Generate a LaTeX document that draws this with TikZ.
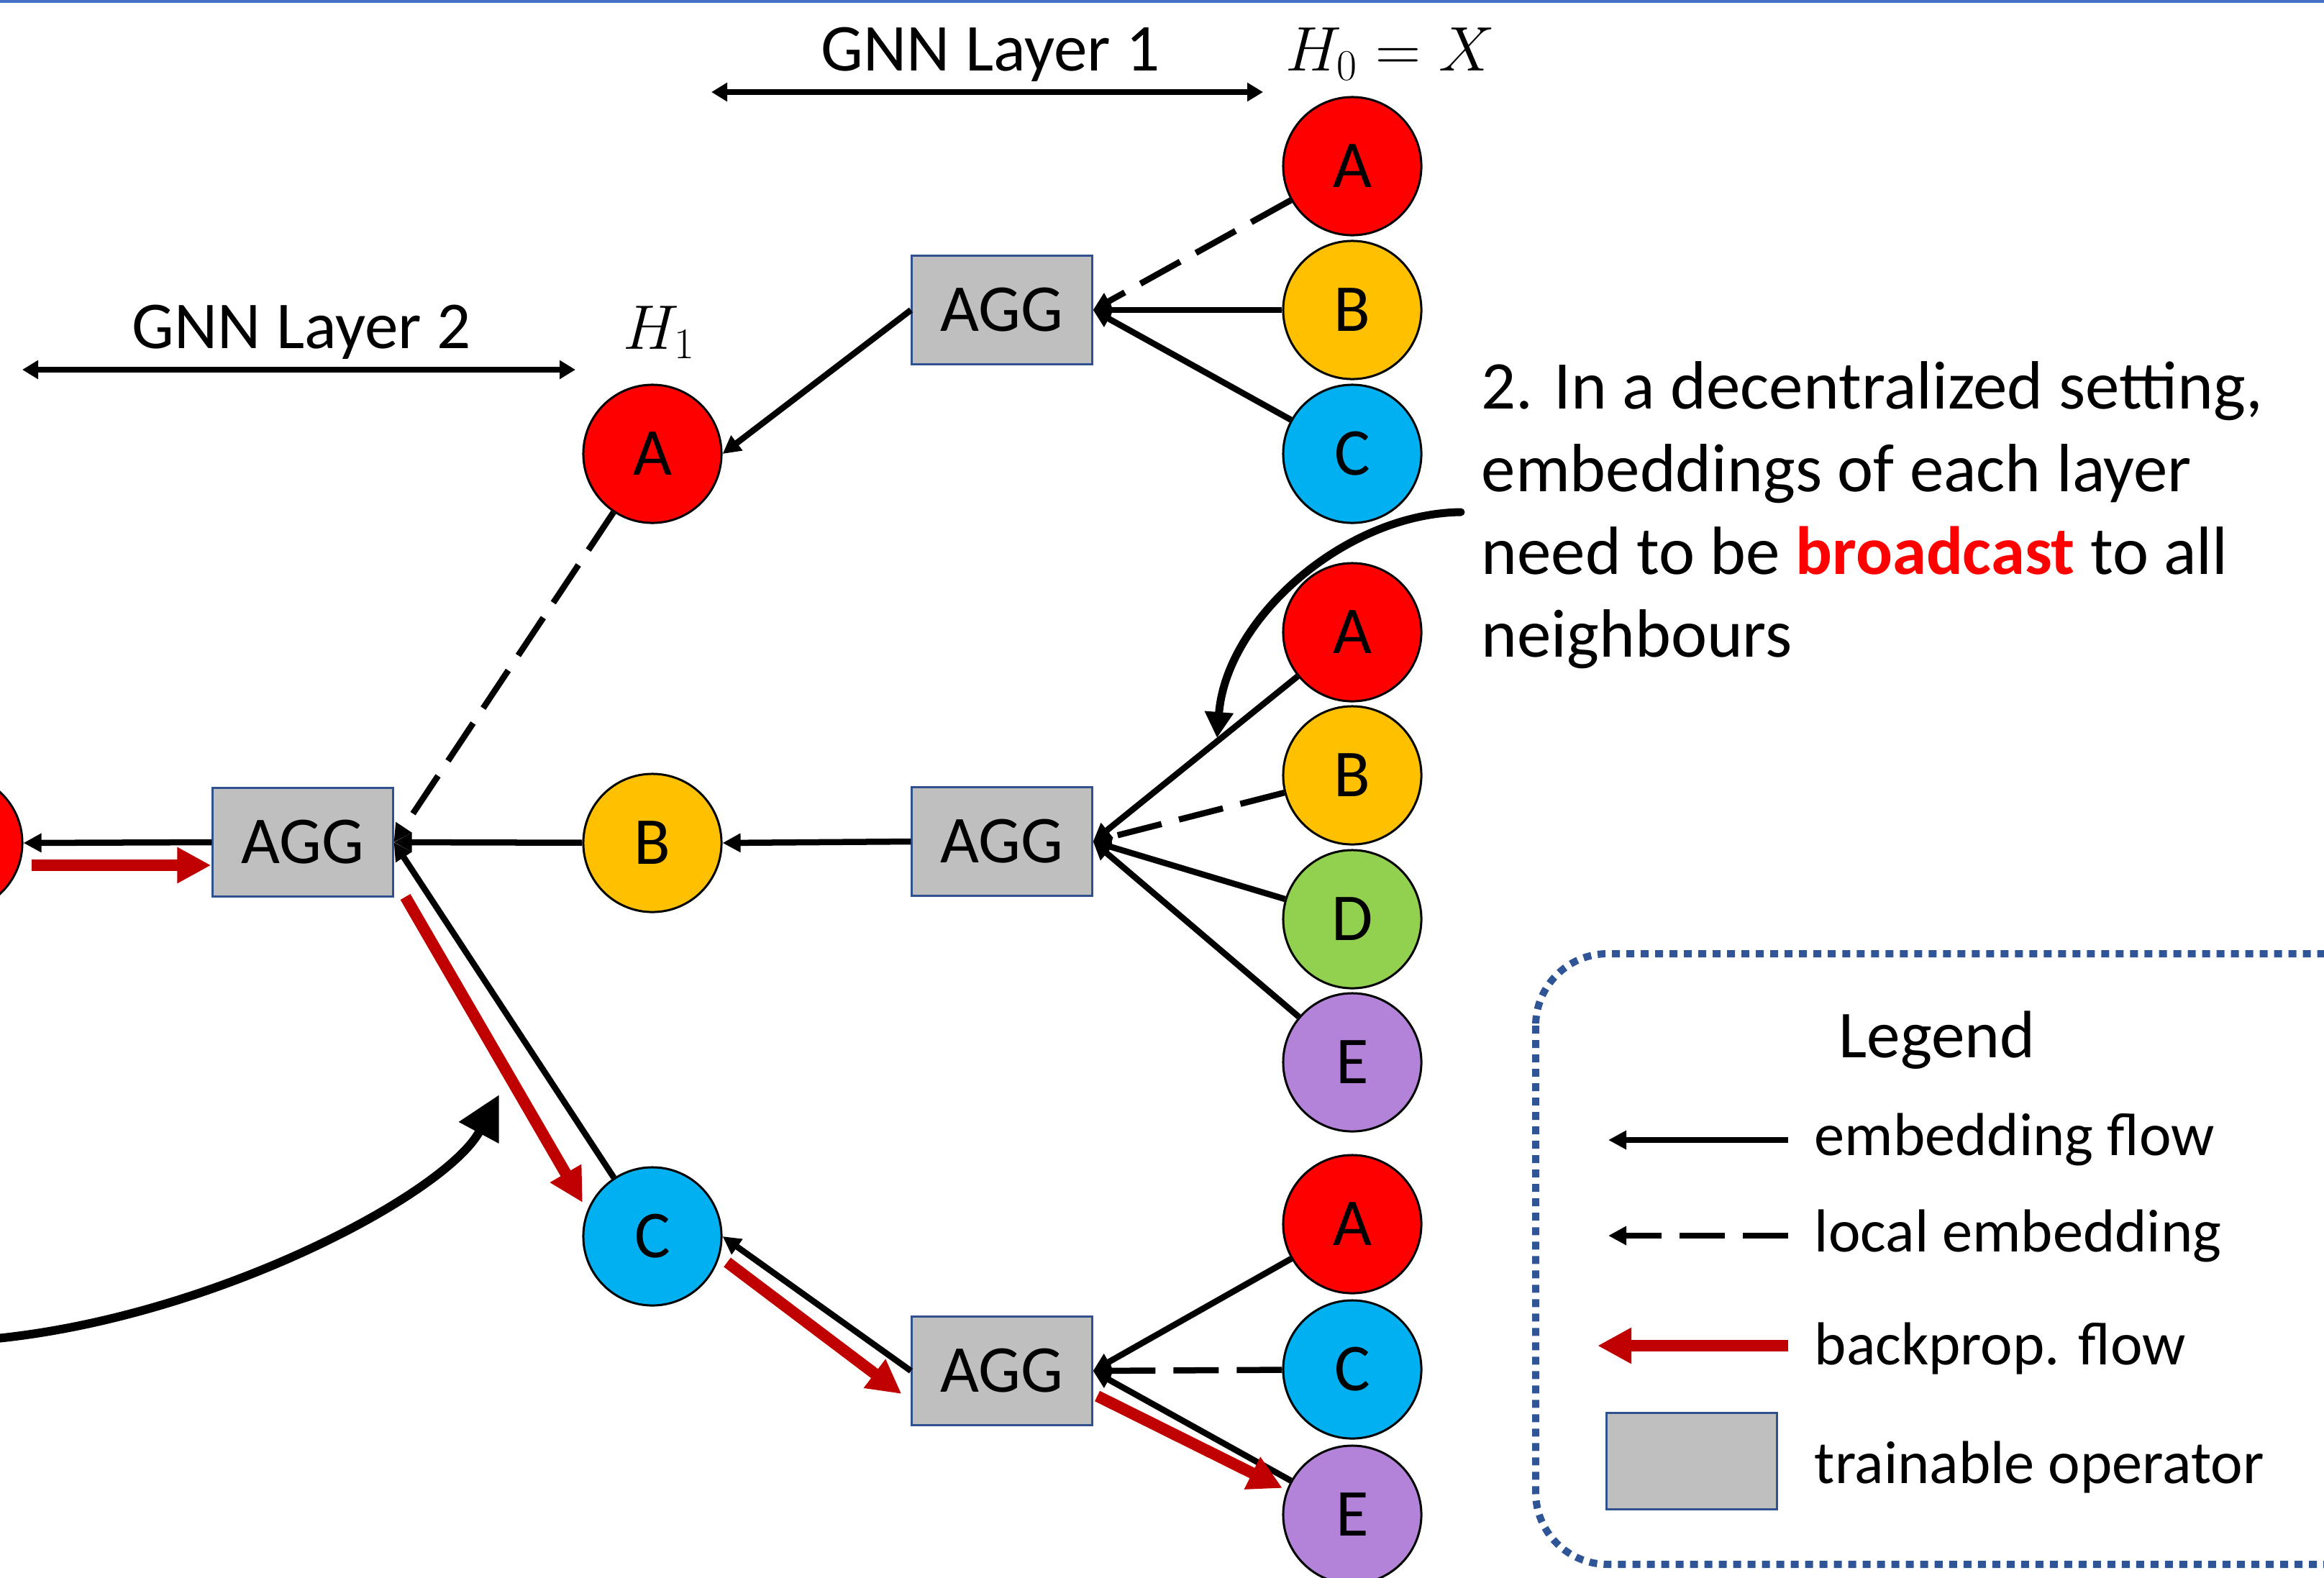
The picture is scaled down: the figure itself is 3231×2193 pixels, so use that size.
\documentclass[tikz,border=0pt]{standalone}
\usepackage{fontspec}
\setmainfont{Carlito}
\usetikzlibrary{arrows.meta,calc}

\definecolor{nred}{RGB}{255,0,0}
\definecolor{nyellow}{RGB}{255,192,0}
\definecolor{nblue}{RGB}{0,176,240}
\definecolor{ngreen}{RGB}{146,208,80}
\definecolor{npurple}{RGB}{179,131,217}
\definecolor{bpred}{RGB}{192,0,0}
\definecolor{aggfill}{RGB}{191,191,191}
\definecolor{aggedge}{RGB}{47,82,143}
\definecolor{legedge}{RGB}{47,85,151}
\definecolor{topline}{RGB}{68,114,196}

\begin{document}
\begin{tikzpicture}[x=0.01cm, y=-0.01cm,
  every node/.style={font=\fontsize{26.5}{32.4}\selectfont},
  vert/.style={circle, draw=black, line width=0.03cm, minimum size=1.92cm, inner sep=0pt},
  agg/.style={rectangle, draw=aggedge, fill=aggfill, line width=0.03cm,
              minimum width=2.5cm, minimum height=1.51cm, inner sep=0pt},
  emb/.style={draw=black, line width=0.085cm, -{Triangle[length=0.25cm,width=0.25cm]}},
  loc/.style={emb, dash pattern=on 0.63cm off 0.25cm},
  bp/.style={draw=bpred, line width=0.16cm, -{Triangle[length=0.47cm,width=0.47cm]}},
  span/.style={draw=black, line width=0.085cm,
               {Triangle[length=0.22cm,width=0.25cm]}-{Triangle[length=0.22cm,width=0.25cm]}},
  note/.style={draw=black, line cap=round},
  legtext/.style={anchor=base west, inner sep=0pt, font=\fontsize{24}{29}\selectfont},
  notetext/.style={anchor=base west, inner sep=0pt, font=\fontsize{27}{32.4}\selectfont},
]
\useasboundingbox (0,0) rectangle (3231,2193);
\clip (0,0) rectangle (3231,2193);

% thin rule along the top edge
\draw[topline, line width=0.04cm] (0,2) -- (3231,2);

% input embeddings H_0 (three neighbourhoods)
\node[vert, fill=nred]    (tA) at (1880,231)  {A};
\node[vert, fill=nyellow] (tB) at (1880,431)  {B};
\node[vert, fill=nblue]   (tC) at (1880,631)  {C};
\node[vert, fill=nred]    (mA) at (1880,879)  {A};
\node[vert, fill=nyellow] (mB) at (1880,1078) {B};
\node[vert, fill=ngreen]  (mD) at (1880,1278) {D};
\node[vert, fill=npurple] (mE) at (1880,1477) {E};
\node[vert, fill=nred]    (bA) at (1880,1702) {A};
\node[vert, fill=nblue]   (bC) at (1880,1904) {C};
\node[vert, fill=npurple] (bE) at (1880,2106) {E};

% aggregation operators
\node[agg] (tAGG) at (1393,431)  {AGG};
\node[agg] (mAGG) at (1393,1170) {AGG};
\node[agg] (bAGG) at (1393,1906) {AGG};
\node[agg] (lAGG) at (421,1171)  {AGG};

% layer-1 embeddings H_1
\node[vert, fill=nred]    (hA) at (907,631)  {A};
\node[vert, fill=nyellow] (hB) at (907,1172) {B};
\node[vert, fill=nblue]   (hC) at (907,1719) {C};

% layer-2 output node
\node[vert, fill=nred] (out) at (-65,1172) {};

% layer 1 aggregation
\draw[loc] (tA) -- (tAGG.east);
\draw[emb] (tB) -- (tAGG.east);
\draw[emb] (tC) -- (tAGG.east);
\draw[emb] (tAGG.west) -- (hA.east);

\draw[emb] (mA) -- (mAGG.east);
\draw[loc] (mB) -- (mAGG.east);
\draw[emb] (mD) -- (mAGG.east);
\draw[emb] (mE) -- (mAGG.east);
\draw[emb] (mAGG.west) -- (hB.east);

\draw[emb] (bA) -- (bAGG.east);
\draw[loc] (bC) -- (bAGG.east);
\draw[emb] (bE) -- (bAGG.east);
\draw[emb] (bAGG.west) -- (hC.east);

% layer 2 aggregation
\draw[loc] (hA) -- (lAGG.east);
\draw[emb] (hB) -- (lAGG.east);
\draw[emb] (hC) -- (lAGG.east);
\draw[emb] (lAGG.west) -- (out.east);

% backpropagation path
\draw[bp] ([shift={(11,31)}]out.east) -- ([shift={(-1,32)}]lAGG.west);
\draw[bp] ([shift={(16,76)}]lAGG.east) -- ([shift={(-97,-47)}]hC.center);
\draw[bp] ([shift={(104,36)}]hC.center) -- ([shift={(-13,32)}]bAGG.west);
\draw[bp] ([shift={(6,35)}]bAGG.east) -- ([shift={(-97,-37)}]bE.center);

% layer spans and labels
\coordinate (s1a) at (989,128);
\coordinate (s1b) at (1756,128);
\draw[span] (s1a) -- (s1b);
\node[anchor=base] (lay1) at (1377,98) {GNN Layer 1};
\node[anchor=base] (h0) at (1933,98) {$H_0 = X$};

\coordinate (s2a) at (31,514);
\coordinate (s2b) at (800,514);
\draw[span] (s2a) -- (s2b);
\node[anchor=base] (lay2) at (419,484) {GNN Layer 2};
\node[anchor=base] (h1) at (917,485) {$H_1$};

% annotation
\node[notetext] (n1) at (2059,568) {2. In a decentralized setting,};
\node[notetext] (n2) at (2059,683) {embeddings of each layer};
\node[notetext] (n3) at (2059,798) {need to be \textcolor{red}{\textbf{broadcast}} to all};
\node[notetext] (n4) at (2059,913) {neighbours};

\coordinate (c1s) at (2031,712);
\coordinate (c1e) at (1692,1026);
\draw[note, line width=0.11cm, -{Triangle[length=0.36cm,width=0.38cm]}]
  (c1s) .. controls (1870,714) and (1705,860) .. (c1e);

\coordinate (c2s) at (-5,1861);
\coordinate (c2e) at (694,1522);
\draw[note, line width=0.12cm, -{Triangle[length=0.6cm,width=0.6cm]}]
  (c2s) .. controls (300,1830) and (620,1660) .. (c2e);

% legend
\draw[legedge, line width=0.1cm, dash pattern=on 0.11cm off 0.09cm, rounded corners=1cm]
  (2135,1326) rectangle (3330,2175);
\node[anchor=base] (legtitle) at (2693,1470) {Legend};

\coordinate (e1a) at (2486,1585);
\coordinate (e1b) at (2236,1585);
\draw[emb] (e1a) -- (e1b);
\node[legtext] (t1) at (2522,1606) {embedding flow};

\coordinate (e2a) at (2486,1718);
\coordinate (e2b) at (2236,1718);
\draw[loc] (e2a) -- (e2b);
\node[legtext] (t2) at (2522,1740) {local embedding};

\coordinate (e3a) at (2486,1871);
\coordinate (e3b) at (2221,1871);
\draw[bp] (e3a) -- (e3b);
\node[legtext] (t3) at (2522,1897) {backprop. flow};

\node[agg, minimum width=2.36cm, minimum height=1.34cm] (legbox) at (2352,2031) {};
\node[legtext] (t4) at (2522,2062) {trainable operator};
\end{tikzpicture}
\end{document}
